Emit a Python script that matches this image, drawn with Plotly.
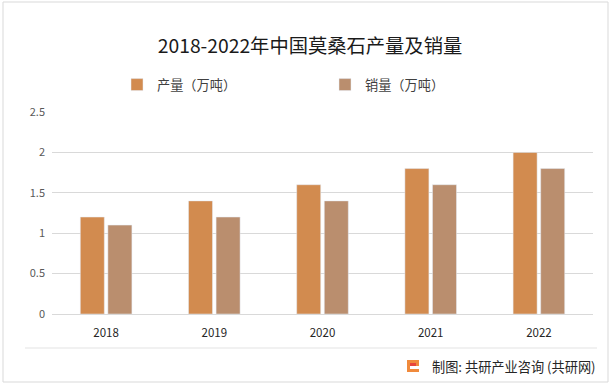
import plotly.graph_objects as go

years = ["2018", "2019", "2020", "2021", "2022"]
production = [1.2, 1.4, 1.6, 1.8, 2.0]
sales = [1.1, 1.2, 1.4, 1.6, 1.8]
y_ticks = [0, 0.5, 1, 1.5, 2, 2.5]
y_tick_text = ["0", "0.5", "1", "1.5", "2", "2.5"]

W, H = 613, 386
L, R, T, B = 52, 20, 112, 72
pw, ph = W - L - R, H - T - B

def px(x):
    return (x - L) / pw

def py(y):
    return (H - B - y) / ph

font_cjk = "Noto Sans CJK SC, Microsoft YaHei, sans-serif"

fig = go.Figure()
fig.add_trace(go.Bar(x=years, y=production, name="产量（万吨）", marker_color="#D28B4F"))
fig.add_trace(go.Bar(x=years, y=sales, name="销量（万吨）", marker_color="#BA8E6E"))

fig.update_layout(
    width=W, height=H,
    margin=dict(l=L, r=R, t=T, b=B),
    paper_bgcolor="white", plot_bgcolor="white",
    barmode="group", bargap=0.49, bargroupgap=0.13,
    font=dict(family=font_cjk, size=12, color="#404040"),
    title=dict(text="2018-2022年中国莫桑石产量及销量", xref="container", x=310 / W, xanchor="center",
               yref="container", y=1 - 46 / H, yanchor="middle",
               font=dict(size=19.3, color="#1a1a1a", family=font_cjk)),
    legend=dict(orientation="h", x=px(117), xanchor="left", y=py(85), yanchor="middle",
                entrywidth=163, entrywidthmode="pixels",
                font=dict(size=13.2, color="#404040", family=font_cjk),
                bgcolor="rgba(0,0,0,0)", traceorder="normal"),
    yaxis=dict(range=[0, 2.5], tickvals=y_ticks, ticktext=y_tick_text,
               showgrid=True, gridcolor="#D9D9D9", gridwidth=1, zeroline=False,
               showline=False, ticks="", tickfont=dict(size=11, color="#595959"),
               ticklabelstandoff=6),
    xaxis=dict(showgrid=False, showline=True, linecolor="#D9D9D9", linewidth=1,
               ticks="", tickfont=dict(size=11.5, color="#262626"), ticklabelstandoff=8),
    shapes=[
        dict(type="rect", xref="paper", yref="paper", x0=px(3), x1=px(608), y0=py(382), y1=py(2),
             line=dict(color="#D9D9D9", width=1), fillcolor="rgba(0,0,0,0)", layer="below"),
        dict(type="line", xref="paper", yref="paper", x0=px(25), x1=px(597), y0=py(348), y1=py(348),
             line=dict(color="#E3E3E3", width=1)),
        dict(type="rect", xref="paper", yref="paper", x0=px(407), x1=px(419), y0=py(372), y1=py(360),
             line=dict(width=0), fillcolor="#F08A3C"),
        dict(type="rect", xref="paper", yref="paper", x0=px(410), x1=px(419), y0=py(369), y1=py(366),
             line=dict(width=0), fillcolor="white"),
        dict(type="rect", xref="paper", yref="paper", x0=px(410), x1=px(416), y0=py(366), y1=py(363),
             line=dict(width=0), fillcolor="#E8453C"),
    ],
    annotations=[
        dict(text="制图: 共研产业咨询 (共研网)", xref="paper", yref="paper", x=px(598), y=py(366),
             xanchor="right", yanchor="middle", showarrow=False,
             font=dict(size=13.2, color="#262626", family=font_cjk)),
    ],
)

fig.write_html("out.html", config={"displayModeBar": False},
               post_script="document.body.style.margin='0';")
